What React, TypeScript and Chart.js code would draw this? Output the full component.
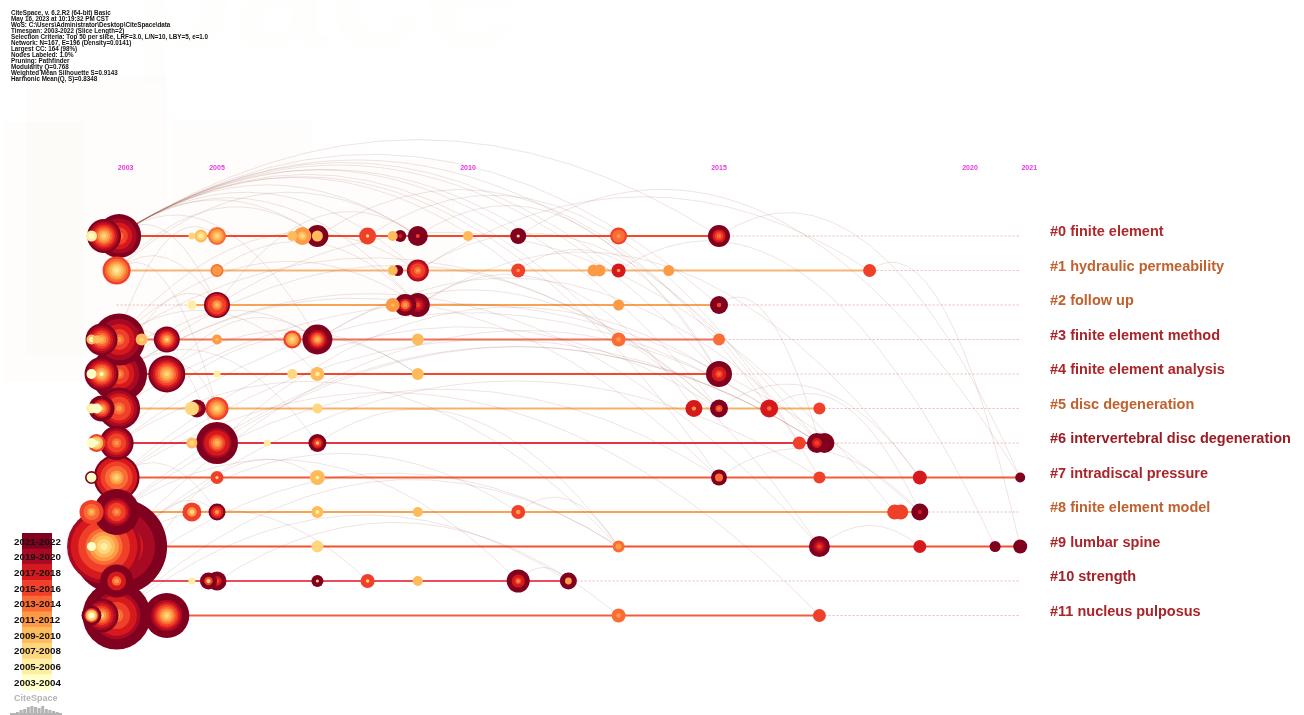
import React, { useEffect, useRef } from "react";
import { Chart, registerables } from "chart.js";

Chart.register(...registerables);

// [publication year, node radius, ring colour codes from the centre outwards]
type NodeRow = [number, number, string];
// [from lane, from year, to lane, to year]
type LinkRow = [number, number, number, number];

const infoLines = [
  "CiteSpace, v. 6.2.R2 (64-bit) Basic",
  "May 16, 2023 at 10:19:32 PM CST",
  "WoS: C:\\Users\\Administrator\\Desktop\\CiteSpace\\data",
  "Timespan: 2003-2022 (Slice Length=2)",
  "Selection Criteria: Top 50 per slice, LRF=3.0, L/N=10, LBY=5, e=1.0",
  "Network: N=167, E=196 (Density=0.0141)",
  "Largest CC: 164 (98%)",
  "Nodes Labeled: 1.0%",
  "Pruning: Pathfinder",
  "Modularity Q=0.768",
  "Weighted Mean Silhouette S=0.9143",
  "Harmonic Mean(Q, S)=0.8348",
];

// time slices, oldest first
const sliceLabels = [
  "2003-2004", "2005-2006", "2007-2008", "2009-2010", "2011-2012",
  "2013-2014", "2015-2016", "2017-2018", "2019-2020", "2021-2022",
];
const sliceColors = [
  "#ffffc8", "#ffeda2", "#fed67e", "#fdbb5c", "#fd9a45",
  "#fa6c35", "#f0402a", "#d6191d", "#a80a24", "#80001f",
];

const clusterLabels = [
  "#0 finite element",
  "#1 hydraulic permeability",
  "#2 follow up",
  "#3 finite element method",
  "#4 finite element analysis",
  "#5 disc degeneration",
  "#6 intervertebral disc degeneration",
  "#7 intradiscal pressure",
  "#8 finite element model",
  "#9 lumbar spine",
  "#10 strength",
  "#11 nucleus pulposus",
];
const labelColors = [
  "#b0292a", "#c0612e", "#c0612e", "#a9252a", "#ab2629", "#c0612e",
  "#9a1c24", "#a9252a", "#c0612e", "#a9252a", "#a22127", "#a9252a",
];
const laneLineColors = [
  "#f4482b", "#f7b574", "#f7a257", "#f07258", "#f4482b", "#f7b066",
  "#e33540", "#f45c34", "#f7a352", "#f4502e", "#ea4d58", "#f45c3f",
];

const yearTickLabels = ["2003", "2005", "2010", "2015", "2020", "2021"];
const yearTickAt = [2003.18, 2005, 2010, 2015, 2020, 2021.18];
const timelineStart = 2003;
const timelineEnd = 2021;

const lane0: NodeRow[] = [
  [2003.05, 22, "4566778899"], [2002.75, 17, "23456789"], [2002.5, 5.5, "01"],
  [2004.5, 3.5, "2"], [2004.68, 6.5, "123"], [2005.0, 9, "2345"],
  [2006.5, 5, "3"], [2006.7, 9, "2344"], [2007.0, 11, "3399"],
  [2008.0, 8.5, "26666"], [2008.65, 6, "799"], [2008.5, 5, "33"],
  [2009.0, 10, "69999"], [2010.0, 5, "3"], [2011.0, 8, "29999"],
  [2013.0, 8.5, "4556"], [2015.0, 11, "56799"],
];
const lane1: NodeRow[] = [
  [2003.0, 14, "123456"], [2005.0, 6.5, "4445"], [2008.6, 5.5, "9"],
  [2008.5, 5, "3"], [2009.0, 11, "456678"], [2011.0, 7, "4666"],
  [2012.5, 6, "4"], [2012.62, 6, "4"], [2013.0, 7, "4777"],
  [2014.0, 5.5, "4"], [2018.0, 6.5, "6"],
];
const lane2: NodeRow[] = [
  [2004.5, 4.5, "1"], [2005.0, 13, "3456679"], [2008.5, 7, "3444"],
  [2009.0, 12, "67899"], [2008.75, 11, "45799"], [2013.0, 5.5, "4"],
  [2015.0, 9, "6999"],
];
const lane3: NodeRow[] = [
  [2003.05, 26, "4566778899"], [2002.7, 16, "3456789"], [2002.5, 5, "03"],
  [2002.6, 4, "3"], [2003.5, 6, "233"], [2004.0, 13, "2456789"],
  [2005.0, 5, "344"], [2006.5, 9, "2346"], [2007.0, 15, "345678999"],
  [2009.0, 6, "3"], [2013.0, 7, "455"], [2015.0, 6, "5"],
];
const lane4: NodeRow[] = [
  [2003.05, 28, "45667788999"], [2002.7, 17, "03456789"], [2002.5, 5, "0"],
  [2004.0, 18.5, "23456789"], [2005.0, 3.5, "1"], [2006.5, 5, "2"],
  [2007.0, 7, "133"], [2009.0, 6, "3"], [2015.0, 13, "5677999"],
];
const lane5: NodeRow[] = [
  [2003.05, 21, "4566789"], [2002.7, 13, "2456799"], [2002.5, 5, "01"],
  [2002.6, 5, "0"], [2004.6, 9, "6799"], [2004.5, 7, "22"],
  [2005.0, 11.5, "23456"], [2007.0, 5, "2"], [2014.5, 8.5, "4777"],
  [2015.0, 9, "56999"], [2016.0, 9, "5777"], [2017.0, 6, "6"],
];
const lane6: NodeRow[] = [
  [2002.6, 9, "0236"], [2002.5, 5, "0"], [2003.0, 17, "4566789"],
  [2004.5, 5.5, "23"], [2005.0, 21, "3456778999"], [2006.0, 3.5, "1"],
  [2007.0, 9, "36799"], [2016.6, 6.5, "6"], [2017.1, 10, "7999"],
  [2016.95, 10, "6799"],
];
const lane7: NodeRow[] = [
  [2003.0, 23, "2345566779"], [2002.5, 6.5, "0009"], [2005.0, 6.5, "2666"],
  [2007.0, 7.5, "1333"], [2015.0, 8, "5599"], [2017.0, 6, "6"],
  [2019.0, 7, "7"], [2021.0, 5, "9"],
];
const lane8: NodeRow[] = [
  [2003.0, 23, "4566789999"], [2002.5, 12, "345566"], [2004.5, 9.5, "2466"],
  [2005.0, 8.5, "4679"], [2007.0, 6, "133"], [2009.0, 5, "3"],
  [2011.0, 7, "466"], [2018.5, 7.5, "6"], [2018.62, 7.5, "66"],
  [2019.0, 8.5, "7999"],
];
const lane9: NodeRow[] = [
  [2003.05, 48, "56778899"], [2002.75, 37, "1234566778"], [2002.5, 4.5, "0"],
  [2007.0, 6, "2"], [2013.0, 6, "45"], [2017.0, 10.5, "67899"],
  [2019.0, 6.5, "7"], [2020.5, 5.5, "9"], [2021.0, 7, "9"],
];
const lane10: NodeRow[] = [
  [2003.0, 16.5, "4577999"], [2004.5, 3.5, "1"], [2005.0, 9.5, "6799"],
  [2004.83, 8.5, "2699"], [2007.0, 6, "2999"], [2008.0, 7, "2666"],
  [2009.0, 5, "3"], [2011.0, 11.5, "4677999"], [2012.0, 8.5, "44999"],
];
const lane11: NodeRow[] = [
  [2003.0, 34, "4566778999"], [2002.7, 17, "2456789"], [2002.5, 10, "0023699"],
  [2004.0, 22.5, "2345678999"], [2013.0, 7, "455"], [2017.0, 6.5, "6"],
];

const lanes = [lane0, lane1, lane2, lane3, lane4, lane5, lane6, lane7, lane8, lane9, lane10, lane11];

const citationLinks: LinkRow[] = [
  [0, 2003, 0, 2007], [0, 2003, 0, 2009], [0, 2003, 1, 2009], [0, 2003, 2, 2005],
  [0, 2003, 2, 2009], [0, 2003, 3, 2007], [0, 2003, 5, 2015], [0, 2003, 4, 2015],
  [0, 2003, 6, 2017], [0, 2003, 7, 2015], [0, 2003, 0, 2015], [0, 2003, 1, 2011],
  [0, 2003, 3, 2013], [0, 2003, 0, 2011], [0, 2003, 1, 2013], [0, 2003, 2, 2015],
  [1, 2003, 0, 2009], [1, 2003, 2, 2005], [1, 2003, 5, 2005], [1, 2003, 0, 2007],
  [3, 2003, 0, 2005], [3, 2003, 1, 2009], [3, 2003, 6, 2005], [3, 2003, 4, 2007],
  [3, 2003, 2, 2009], [3, 2003, 5, 2015], [4, 2003, 2, 2005], [4, 2003, 3, 2007],
  [4, 2003, 7, 2015], [4, 2003, 9, 2017], [4, 2003, 6, 2007], [5, 2003, 3, 2004],
  [5, 2003, 8, 2019], [5, 2003, 4, 2009], [6, 2003, 4, 2009], [6, 2003, 9, 2013],
  [6, 2003, 5, 2016], [7, 2003, 5, 2015], [7, 2003, 8, 2005], [7, 2003, 11, 2017],
  [7, 2003, 6, 2017], [8, 2003, 6, 2017], [8, 2003, 10, 2011], [8, 2003, 7, 2015],
  [9, 2003, 5, 2016], [9, 2003, 7, 2017], [9, 2003, 10, 2008], [9, 2003, 8, 2011],
  [10, 2003, 8, 2005], [10, 2003, 9, 2013], [11, 2003, 9, 2013], [11, 2003, 10, 2012],
  [11, 2003, 7, 2007], [0, 2007, 5, 2016], [0, 2009, 4, 2015], [0, 2008, 6, 2016.6],
  [1, 2009, 7, 2017], [2, 2005, 8, 2018.5], [2, 2009, 7, 2019], [3, 2007, 6, 2017],
  [3, 2007, 9, 2017], [0, 2011, 7, 2021], [1, 2013, 9, 2020.5], [1, 2018, 9, 2021],
  [5, 2015, 7, 2019], [5, 2016, 8, 2019], [6, 2005, 6, 2017], [6, 2007, 9, 2013],
  [9, 2017, 9, 2019], [1, 2009, 1, 2018], [7, 2015, 8, 2019], [0, 2015, 7, 2021],
  [2, 2015, 6, 2017], [10, 2011, 10, 2012], [8, 2011, 9, 2013], [4, 2004, 5, 2005],
  [1, 2005, 2, 2009], [2, 2005, 0, 2009], [4, 2004, 3, 2007], [6, 2005, 4, 2015],
  [10, 2005, 11, 2013], [3, 2004, 5, 2015], [1, 2011, 4, 2015], [2, 2009, 5, 2014.5],
];

const timelinePlugin = {
  id: "timeline",
  beforeDraw(chart: any) {
    const ctx: CanvasRenderingContext2D = chart.ctx;
    ctx.save();
    ctx.fillStyle = "#ffffff";
    ctx.fillRect(0, 0, chart.width, chart.height);
    // faint logo watermark behind the plot
    ctx.fillStyle = "rgba(244,230,204,0.08)";
    ctx.fillRect(27, 75, 140, 280);
    ctx.fillRect(4, 122, 80, 260);
    ctx.fillRect(172, 120, 140, 230);
    ctx.fillRect(312, 160, 143, 140);
    ctx.font = "bold 170px 'Liberation Sans'";
    ctx.fillStyle = "rgba(244,230,204,0.06)";
    ctx.fillText("pace", 130, 48);
    ctx.restore();
  },
  afterDraw(chart: any) {
    const ctx: CanvasRenderingContext2D = chart.ctx;
    const xs = chart.scales.x;
    const ys = chart.scales.y;
    const px = (v: number) => xs.getPixelForValue(v);
    const py = (v: number) => ys.getPixelForValue(v);
    ctx.save();

    // run summary
    ctx.fillStyle = "#111111";
    ctx.font = "bold 7.5px 'Liberation Sans'";
    ctx.textBaseline = "alphabetic";
    ctx.textAlign = "left";
    const widest = ctx.measureText(infoLines[4]).width;
    ctx.save();
    ctx.translate(11, 0);
    ctx.scale(197 / widest, 1);
    infoLines.forEach((t, i) => ctx.fillText(t, 0, 14.8 + i * 6));
    ctx.restore();

    // year ticks
    ctx.fillStyle = "#e23be2";
    ctx.font = "bold 7px 'Liberation Sans'";
    ctx.textAlign = "center";
    ctx.textBaseline = "middle";
    yearTickLabels.forEach((t, i) => ctx.fillText(t, px(yearTickAt[i]), 168));

    // lane guides
    lanes.forEach((nodes, lane) => {
      const y = py(lane);
      ctx.setLineDash([2, 2]);
      ctx.strokeStyle = "rgba(232,160,160,0.75)";
      ctx.lineWidth = 1;
      ctx.beginPath();
      ctx.moveTo(px(timelineStart), y);
      ctx.lineTo(px(timelineEnd), y);
      ctx.stroke();
      ctx.setLineDash([]);
      const years = nodes.map((n) => n[0]);
      ctx.strokeStyle = laneLineColors[lane];
      ctx.lineWidth = 2;
      ctx.beginPath();
      ctx.moveTo(px(Math.min(...years)), y);
      ctx.lineTo(px(Math.max(...years)), y);
      ctx.stroke();
    });

    // citation arcs
    ctx.lineWidth = 0.8;
    ctx.strokeStyle = "rgba(150,80,70,0.2)";
    citationLinks.forEach(([la, ya, lb, yb]) => {
      const x1 = px(ya);
      const y1 = py(la);
      const x2 = px(yb);
      const y2 = py(lb);
      const lift = 0.3 * Math.abs(x2 - x1) + 12;
      ctx.beginPath();
      ctx.moveTo(x1, y1);
      ctx.quadraticCurveTo((x1 + x2) / 2, Math.min(y1, y2) - lift, x2, y2);
      ctx.stroke();
    });

    // citation tree-ring nodes, larger ones underneath
    const all: { lane: number; n: NodeRow; k: number }[] = [];
    let k = 0;
    lanes.forEach((nodes, lane) => nodes.forEach((n) => all.push({ lane, n, k: k++ })));
    all.sort((a, b) => b.n[1] - a.n[1] || a.k - b.k);
    all.forEach(({ lane, n }) => {
      const [year, r, rings] = n;
      const cx = px(year);
      const cy = py(lane);
      const count = rings.length;
      for (let i = count - 1; i >= 0; i--) {
        ctx.fillStyle = sliceColors[Number(rings[i])];
        ctx.beginPath();
        ctx.arc(cx, cy, (r * (i + 1)) / count, 0, Math.PI * 2);
        ctx.fill();
      }
    });

    // cluster labels
    ctx.textAlign = "left";
    ctx.textBaseline = "middle";
    ctx.font = "bold 14.5px 'Liberation Sans'";
    clusterLabels.forEach((t, lane) => {
      ctx.fillStyle = labelColors[lane];
      ctx.fillText(t, 1050, py(lane) - 4);
    });

    // time slice colour key
    const bandTop = 533;
    const bandH = 15.7;
    const keyOrder = sliceLabels.map((_, i) => sliceLabels.length - 1 - i);
    keyOrder.forEach((si, row) => {
      ctx.fillStyle = sliceColors[si];
      ctx.fillRect(22, bandTop + row * bandH, 30, bandH + 0.5);
    });
    ctx.fillStyle = "#111111";
    ctx.font = "bold 9.8px 'Liberation Sans'";
    keyOrder.forEach((si, row) => {
      ctx.fillText(sliceLabels[si], 14, bandTop + row * bandH + bandH / 2 + 1);
    });

    // small program mark
    ctx.fillStyle = "#b4b4b4";
    ctx.font = "bold 9px 'Liberation Sans'";
    ctx.fillText("CiteSpace", 14, 699);
    const bars = [2, 4, 5, 7, 8, 7, 6, 8, 5, 4, 3, 2];
    bars.forEach((h, i) => ctx.fillRect(16 + i * 3.6, 714 - h, 3, h));
    ctx.fillRect(10, 713, 52, 2);

    ctx.restore();
  },
};

export default function App() {
  const canvasRef = useRef<HTMLCanvasElement | null>(null);

  useEffect(() => {
    document.body.style.margin = "0";
    const canvas = canvasRef.current;
    if (!canvas) return;
    const points = lanes.flatMap((nodes, lane) => nodes.map((n) => ({ x: n[0], y: lane })));
    const chart = new Chart(canvas, {
      type: "scatter",
      data: {
        datasets: [
          { data: points, pointRadius: 0, pointHoverRadius: 0, showLine: false },
        ],
      },
      options: {
        responsive: false,
        animation: false,
        devicePixelRatio: 1,
        events: [],
        layout: { padding: { left: 16.2, right: 32.8, top: 98, bottom: 30.5 } },
        plugins: {
          legend: { display: false },
          tooltip: { enabled: false },
          title: { display: false },
        },
        scales: {
          x: { type: "linear", min: 2001, max: 2026, display: false },
          y: { type: "linear", min: -4, max: 13, reverse: true, display: false },
        },
      },
      plugins: [timelinePlugin],
    });
    return () => chart.destroy();
  }, []);

  return (
    <div style={{ width: 1304, height: 715, overflow: "hidden" }}>
      <canvas ref={canvasRef} width={1304} height={715} style={{ display: "block" }} />
    </div>
  );
}
